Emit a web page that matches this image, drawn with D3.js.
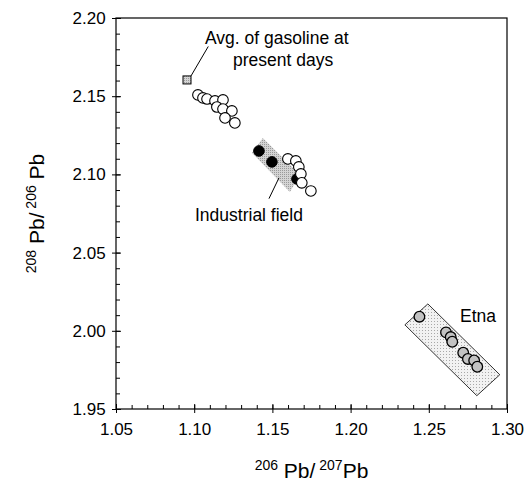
<!DOCTYPE html>
<html>
<head>
<meta charset="utf-8">
<script src="https://cdn.jsdelivr.net/npm/d3@7"></script>
<style>
  body { margin: 0; background: #fff; }
  text { font-family: "Liberation Sans", Arial, sans-serif; fill: #000; }
</style>
</head>
<body>
<script>
// set up canvas
var margin = {top: 18, right: 21, bottom: 79, left: 116},
    width = 528 - margin.left - margin.right,
    height = 488 - margin.top - margin.bottom;

// data: [206Pb/207Pb, 208Pb/206Pb]
var gasoline = [[1.0954, 2.1604]];
var openUpper = [[1.1024, 2.1508], [1.1056, 2.1489], [1.1082, 2.1482], [1.1133, 2.1470],
                 [1.1184, 2.1476], [1.1145, 2.1431], [1.1184, 2.1418], [1.1241, 2.1406],
                 [1.1197, 2.1361], [1.1260, 2.1329]];
var industrial = [[1.1414, 2.1150], [1.1497, 2.1080], [1.1657, 2.0971]];
var openMiddle = [[1.1599, 2.1099], [1.1650, 2.1086], [1.1669, 2.1048], [1.1682, 2.1003],
                  [1.1688, 2.0946], [1.1746, 2.0894]];
var etna = [[1.244, 2.009], [1.261, 1.999], [1.264, 1.996], [1.265, 1.993],
            [1.272, 1.986], [1.275, 1.982], [1.279, 1.981], [1.281, 1.977]];
// field outlines
var industrialField = [[1.1439, 2.1233], [1.1676, 2.0997], [1.1612, 2.0888], [1.1369, 2.1137]];
var etnaField = [[1.2494, 2.0172], [1.2954, 1.9719], [1.2807, 1.9585], [1.2347, 2.0038]];

var xTicks = [1.05, 1.10, 1.15, 1.20, 1.25, 1.30],
    yTicks = [1.95, 2.00, 2.05, 2.10, 2.15, 2.20];

// scales
var x = d3.scaleLinear().domain([1.05, 1.30]).range([0, width]),
    y = d3.scaleLinear().domain([1.95, 2.20]).range([height, 0]);

var svg = d3.select("body").append("svg")
    .attr("width", 528)
    .attr("height", 488);

// fill patterns
var defs = svg.append("defs");
var hatch = defs.append("pattern").attr("id", "hatch")
    .attr("width", 2).attr("height", 2).attr("patternUnits", "userSpaceOnUse");
hatch.append("rect").attr("width", 2).attr("height", 2).attr("fill", "#d4d4d4");
hatch.append("rect").attr("width", 1).attr("height", 1).attr("fill", "#9a9a9a");

var dots = defs.append("pattern").attr("id", "dots")
    .attr("width", 3).attr("height", 3).attr("patternUnits", "userSpaceOnUse");
dots.append("rect").attr("width", 3).attr("height", 3).attr("fill", "#f2f2f2");
dots.append("rect").attr("width", 1).attr("height", 1).attr("fill", "#a8a8a8");

var g = svg.append("g")
    .attr("transform", "translate(" + margin.left + "," + margin.top + ")");

// frame
g.append("rect")
    .attr("width", width).attr("height", height)
    .attr("fill", "none").attr("stroke", "#000").attr("stroke-width", 1.2);

// axes: major ticks cross the frame, minor ticks point inward
var minor = d3.range(1.05, 1.3001, 0.01);
var minorY = d3.range(1.95, 2.2001, 0.01);

var xAxis = g.append("g").attr("transform", "translate(0," + height + ")");
xAxis.call(d3.axisBottom(x).tickValues(minor).tickSize(-4).tickFormat(""));
xAxis.append("g").call(d3.axisBottom(x).tickValues(xTicks).tickSizeInner(4).tickSizeOuter(0)
    .tickFormat(d3.format(".2f")));
xAxis.append("g").call(d3.axisBottom(x).tickValues(xTicks).tickSize(-5).tickFormat(""));

var yAxis = g.append("g");
yAxis.call(d3.axisLeft(y).tickValues(minorY).tickSize(-4).tickFormat(""));
yAxis.append("g").call(d3.axisLeft(y).tickValues(yTicks).tickSizeInner(4).tickSizeOuter(0)
    .tickFormat(d3.format(".2f")));
yAxis.append("g").call(d3.axisLeft(y).tickValues(yTicks).tickSize(-5).tickFormat(""));

g.selectAll(".domain").remove();
g.selectAll(".tick line").attr("stroke", "#000");
g.selectAll(".tick text").style("font-size", "17px").attr("fill", "#000");
xAxis.selectAll(".tick text").attr("dy", "1.1em");
yAxis.selectAll(".tick text").attr("dx", "-0.2em");

// axis titles
var xt = svg.append("text")
    .attr("x", margin.left + width / 2).attr("y", 478)
    .attr("text-anchor", "middle").style("font-size", "21px");
xt.append("tspan").text("206").style("font-size", "14px").attr("dy", "-8");
xt.append("tspan").text(" Pb/").attr("dy", "8");
xt.append("tspan").text(" 207").style("font-size", "14px").attr("dy", "-8");
xt.append("tspan").text("Pb").attr("dy", "8");

var yt = svg.append("text")
    .attr("transform", "translate(44," + (margin.top + height / 2) + ") rotate(-90)")
    .attr("text-anchor", "middle").style("font-size", "21px");
yt.append("tspan").text("208").style("font-size", "14px").attr("dy", "-8");
yt.append("tspan").text(" Pb/").attr("dy", "8");
yt.append("tspan").text(" 206").style("font-size", "14px").attr("dy", "-8");
yt.append("tspan").text(" Pb").attr("dy", "8");

// field polygons
var poly = function(pts) {
    return "M" + pts.map(function(d) { return x(d[0]) + "," + y(d[1]); }).join("L") + "Z";
};
g.append("path").attr("d", poly(etnaField))
    .attr("fill", "url(#dots)").attr("stroke", "#000").attr("stroke-width", 0.8);
g.append("path").attr("d", poly(industrialField))
    .attr("fill", "url(#hatch)").attr("stroke", "none");

// leader lines
g.append("line")
    .attr("x1", x(1.0954) + 4).attr("y1", y(2.1604) - 4)
    .attr("x2", x(1.1090)).attr("y2", y(2.1818))
    .attr("stroke", "#000").attr("stroke-width", 1);
g.append("line")
    .attr("x1", x(1.1542)).attr("y1", y(2.0978))
    .attr("x2", x(1.1478)).attr("y2", y(2.0845))
    .attr("stroke", "#000").attr("stroke-width", 1);

// points
var r = 5.3;
g.selectAll(".etna").data(etna).enter().append("circle")
    .attr("class", "etna")
    .attr("cx", function(d) { return x(d[0]); })
    .attr("cy", function(d) { return y(d[1]); })
    .attr("r", r)
    .attr("fill", "#c2c2c2").attr("stroke", "#000").attr("stroke-width", 1.3);

g.selectAll(".ind").data(industrial).enter().append("circle")
    .attr("class", "ind")
    .attr("cx", function(d) { return x(d[0]); })
    .attr("cy", function(d) { return y(d[1]); })
    .attr("r", r)
    .attr("fill", "#000").attr("stroke", "#000");

g.selectAll(".open").data(openUpper.concat(openMiddle)).enter().append("circle")
    .attr("class", "open")
    .attr("cx", function(d) { return x(d[0]); })
    .attr("cy", function(d) { return y(d[1]); })
    .attr("r", r)
    .attr("fill", "#fff").attr("stroke", "#000").attr("stroke-width", 1.1);

g.selectAll(".gas").data(gasoline).enter().append("rect")
    .attr("class", "gas")
    .attr("x", function(d) { return x(d[0]) - 4; })
    .attr("y", function(d) { return y(d[1]) - 4; })
    .attr("width", 8).attr("height", 8)
    .attr("fill", "url(#hatch)").attr("stroke", "#000").attr("stroke-width", 1);

// annotations
var note = function(txt, px, py) {
    svg.append("text").attr("x", px).attr("y", py).style("font-size", "17.5px").text(txt);
};
note("Avg. of gasoline at", 205, 44);
note("present days", 233, 66);
note("Industrial field", 195, 221);
note("Etna", 460, 322);
</script>
</body>
</html>
